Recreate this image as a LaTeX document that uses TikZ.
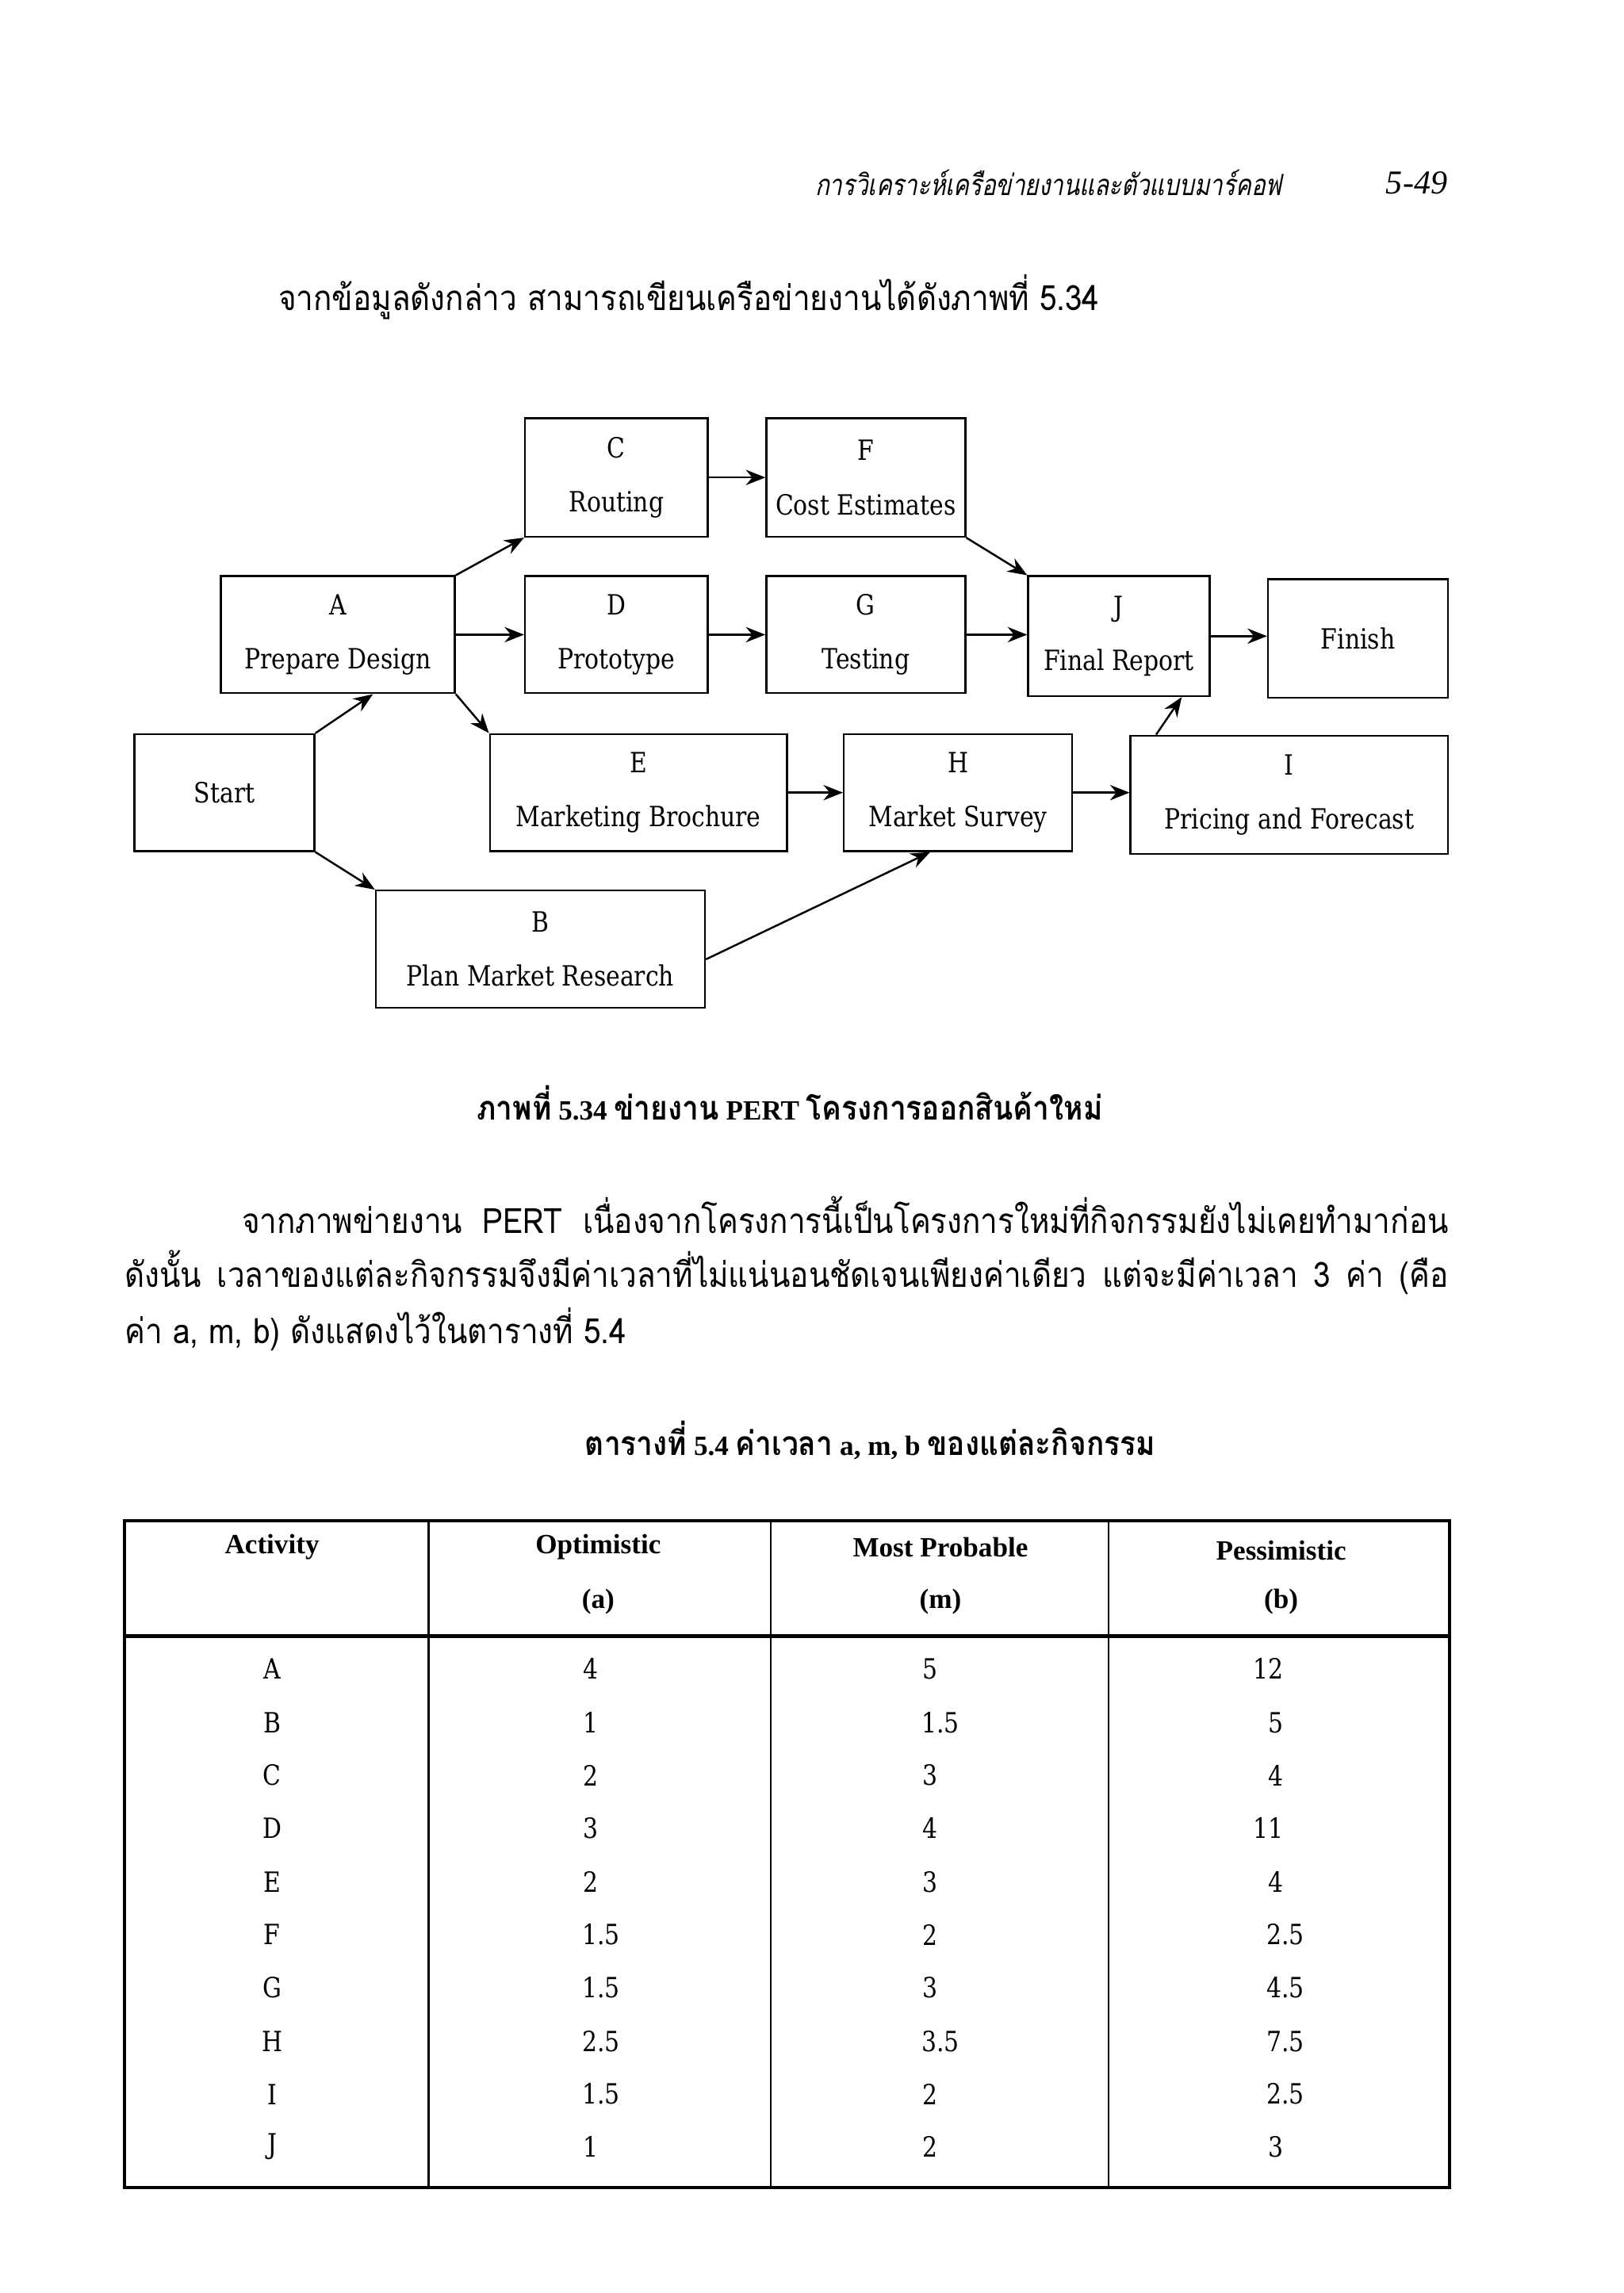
\documentclass[tikz,border=0pt]{standalone}
\usepackage{fontspec}
\usetikzlibrary{arrows.meta,calc}
\setmainfont{Liberation Serif}
\newfontfamily\slab[FakeStretch=0.85]{DejaVu Serif}
\newfontfamily\thaifont[Script=Thai,FakeStretch=0.88]{Loma}
\newfontfamily\thaiit[Script=Thai,FakeSlant=0.2,FakeStretch=0.8]{Loma}
\newcommand\thaibf{\thaifont\bfseries}
\newdimen\pxu \pxu=0.01845cm
% integer part hangs left of the decimal point
\def\decpt#1.#2.#3\relax{\llap{#1}\ifx\relax#2\relax\else.#2\fi}

\begin{document}
\begin{tikzpicture}[x=0.01845cm,y=-0.01845cm,
 box/.style 2 args={draw,line width=.7pt,align=center,inner sep=0pt,minimum width=#1*0.01845cm,minimum height=#2*0.01845cm,font=\slab\fontsize{10}{19.5}\selectfont},
 arr/.style={-{Stealth[length=7pt,width=5.5pt]},line width=.7pt},
 thai/.style={inner sep=0pt,font=\thaifont\fontsize{12.5}{14}\selectfont},
 cell/.style={inner sep=0pt,font=\slab\fontsize{10}{12}\selectfont},
 head/.style={inner sep=0pt,font=\bfseries\fontsize{10}{12}\selectfont}]
\useasboundingbox (0,0) rectangle (1110,1568);

% page head and lead-in
\node[inner sep=0pt,anchor=west,font=\thaiit\fontsize{10.5}{12}\selectfont] (runhead) at (557,125) {การวิเคราะห์เครือข่ายงานและตัวแบบมาร์คอฟ};
\node[inner sep=0pt,anchor=east,font=\itshape\fontsize{12}{14}\selectfont] (pageno) at (990,125) {5-49};
\node[thai,anchor=west] (lead) at (190,203) {จากข้อมูลดังกล่าว สามารถเขียนเครือข่ายงานได้ดังภาพที่ 5.34};

% activity boxes
\node[box={125}{81}] (C) at (421.5,326.5) {C\\Routing};
\node[box={136}{81}] (F) at (592,326.5) {F\\Cost Estimates};
\node[box={160}{80}] (A) at (231,434) {A\\Prepare Design};
\node[box={125}{80}] (D) at (421.5,434) {D\\Prototype};
\node[box={136}{80}] (G) at (592,434) {G\\Testing};
\node[box={124}{82}] (J) at (765,435) {J\\Final Report};
\node[box={123}{81}] (finish) at (928.5,436.5) {Finish};
\node[box={123}{80}] (start) at (153.5,542) {Start};
\node[box={203}{80}] (E) at (436.5,542) {E\\Marketing Brochure};
\node[box={156}{80}] (H) at (655,542) {H\\Market Survey};
\node[box={217}{81}] (I) at (881.5,543.5) {I\\Pricing and Forecast};
\node[box={225}{80}] (B) at (369.5,649) {B\\Plan Market Research};

% precedence arrows
\draw[arr] (start.north east) -- ($(A.south)+(24,0)$);
\draw[arr] (start.south east) -- (B.north west);
\draw[arr] (A.north east) -- (C.south west);
\draw[arr] (A.east) -- (D.west);
\draw[arr] (A.south east) -- (E.north west);
\draw[arr] (C.east) -- (F.west);
\draw[arr] (D.east) -- (G.west);
\draw[arr] (F.south east) -- (J.north west);
\draw[arr] (G.east) -- (G.east -| J.west);
\draw[arr] (J.east) -- (J.east -| finish.west);
\draw[arr] (E.east) -- (H.west);
\draw[arr] (H.east) -- (H.east -| I.west);
\draw[arr] ($(I.north)+(-91,0)$) -- ($(J.south)+(43,0)$);
\draw[arr] ($(B.east)+(0,7)$) -- ($(H.south)+(-19,0)$);

\node[inner sep=0pt] (figcap) at (540,754) {{\thaibf\fontsize{12}{14}\selectfont ภาพที่} {\bfseries 5.34} {\thaibf\fontsize{12}{14}\selectfont ข่ายงาน} {\bfseries PERT} {\thaibf\fontsize{12}{14}\selectfont โครงการออกสินค้าใหม่}};

% body text
\node[thai,anchor=west] (par1) at (165,831) {\makebox[825\pxu][s]{จากภาพข่ายงาน PERT เนื่องจากโครงการนี้เป็นโครงการใหม่ที่กิจกรรมยังไม่เคยทำมาก่อน}};
\node[thai,anchor=west] (par2) at (85,870) {\makebox[905\pxu][s]{ดังนั้น เวลาของแต่ละกิจกรรมจึงมีค่าเวลาที่ไม่แน่นอนชัดเจนเพียงค่าเดียว แต่จะมีค่าเวลา 3 ค่า (คือ}};
\node[thai,anchor=west] (par3) at (85,909) {ค่า a, m, b) ดังแสดงไว้ในตารางที่ 5.4};

\node[inner sep=0pt] (tabcap) at (595,985) {{\thaibf\fontsize{12}{14}\selectfont ตารางที่} {\bfseries 5.4} {\thaibf\fontsize{12}{14}\selectfont ค่าเวลา} {\bfseries a, m, b} {\thaibf\fontsize{12}{14}\selectfont ของแต่ละกิจกรรม}};

% table rules
\draw[line width=1.2pt] (85,1040) rectangle (991,1496);
\draw[line width=1.4pt] (85,1119) -- (991,1119);
\foreach \xx in {293,527,758} \draw[line width=.7pt] (\xx,1040) -- (\xx,1496);

\node[head] (hact) at (186,1058) {Activity};
\node[head] (hopt) at (409,1058) {Optimistic};
\node[head] (hopta) at (409,1095) {(a)};
\node[head] (hmost) at (643,1058) {Most Probable};
\node[head] (hmostm) at (643,1095) {(m)};
\node[head] (hpes) at (876,1060) {Pessimistic};
\node[head] (hpesb) at (876,1095) {(b)};

\foreach \yy/\act/\va/\vm/\vb in {1141/A/4/5/12,1178/B/1/1.5/5,1214/C/2/3/4,1250/D/3/4/11,1287/E/2/3/4,1323/F/1.5/2/2.5,1359/G/1.5/3/4.5,1396/H/2.5/3.5/7.5,1432/I/1.5/2/2.5,1468/J/1/2/3}{
 \node[cell] at (186,\yy) {\act};
 \node[cell,anchor=west] at (408,\yy) {\expandafter\decpt\va..\relax};
 \node[cell,anchor=west] at (640,\yy) {\expandafter\decpt\vm..\relax};
 \node[cell,anchor=west] at (876,\yy) {\expandafter\decpt\vb..\relax};
}
\end{tikzpicture}
\end{document}
